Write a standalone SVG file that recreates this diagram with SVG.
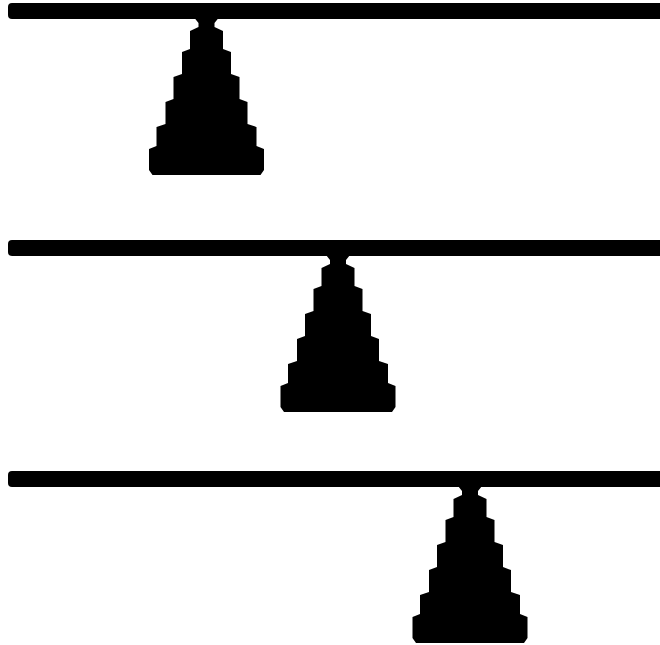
<svg xmlns="http://www.w3.org/2000/svg" xmlns:xlink="http://www.w3.org/1999/xlink" width="660" height="645" viewBox="0 0 660 645">
<style>
.bar{fill:#000}
.cone{fill:#000}
</style>
<defs>
<path id="cone" class="cone" d="M-12,0 L12,0 L8,5 L8,9 L16.5,13 L16.5,31 L24.5,34 L24.5,56 L33,59 L33,81 L41,84 L41,106 L50,109 L50,128 L57.5,131 L57.5,152 L54,157 L-54,157 L-57.5,152 L-57.5,131 L-50,128 L-50,109 L-41,106 L-41,84 L-33,81 L-33,59 L-24.5,56 L-24.5,34 L-16.5,31 L-16.5,13 L-8,9 L-8,5 Z"/>
</defs>
<g id="beam1"><rect class="bar" x="8" y="3" width="670" height="16" rx="4"/></g>
<g id="cone1"><use xlink:href="#cone" href="#cone" x="206.5" y="18"/></g>
<g id="beam2"><rect class="bar" x="8" y="240" width="670" height="16" rx="4"/></g>
<g id="cone2"><use xlink:href="#cone" href="#cone" x="338" y="255"/></g>
<g id="beam3"><rect class="bar" x="8" y="471" width="670" height="16" rx="4"/></g>
<g id="cone3"><use xlink:href="#cone" href="#cone" x="470" y="486"/></g>
</svg>
